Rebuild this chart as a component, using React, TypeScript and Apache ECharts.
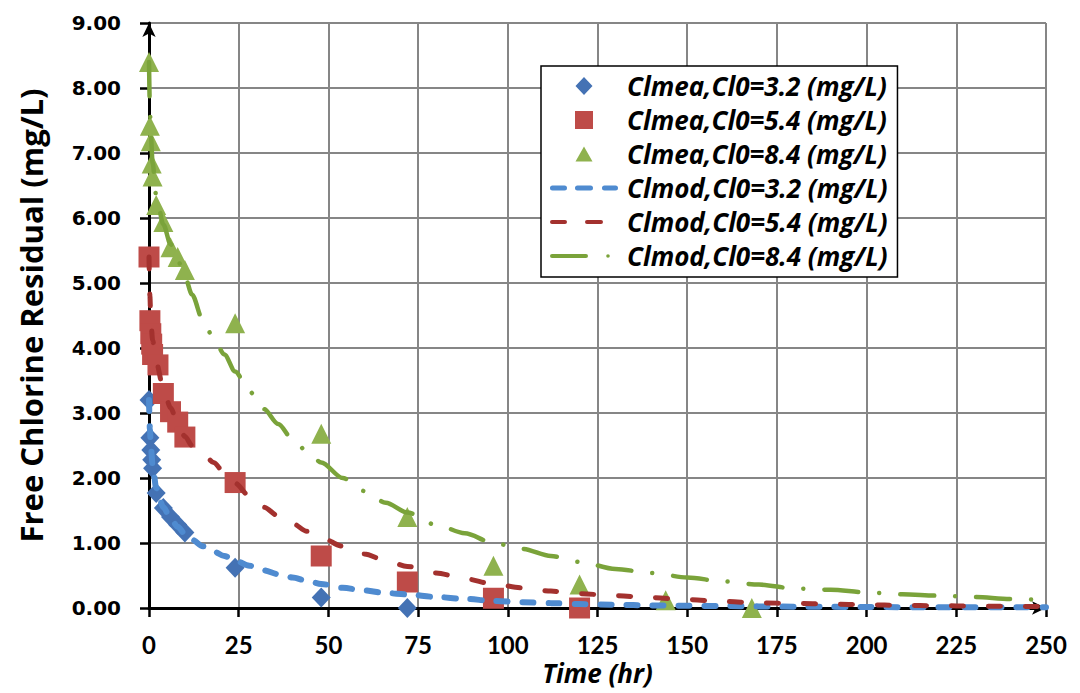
import React, { useEffect, useRef } from "react";
import * as echarts from "echarts";

// ---- measured data ----
const tMea3 = [0, 0.25, 0.5, 0.75, 1, 2, 4, 6, 8, 10, 24, 48, 72];
const clMea3 = [3.2, 2.62, 2.43, 2.28, 2.15, 1.77, 1.54, 1.4, 1.28, 1.16, 0.62, 0.16, 0.0];

const tMea5 = [0, 0.25, 0.5, 0.75, 1, 2.5, 4, 6, 8, 10, 24, 48, 72, 96, 120];
const clMea5 = [5.4, 4.42, 4.22, 4.06, 3.9, 3.74, 3.3, 3.02, 2.86, 2.63, 1.93, 0.8, 0.4, 0.15, 0.0];

const tMea8 = [0, 0.25, 0.5, 0.75, 1, 2, 4, 6, 8, 10, 24, 48, 72, 96, 120, 144, 168];
const clMea8 = [8.4, 7.42, 7.18, 6.84, 6.64, 6.2, 5.94, 5.55, 5.4, 5.2, 4.38, 2.68, 1.4, 0.65, 0.36, 0.12, 0.0];

// ---- model curves ----
const tMod = [0, 0.25, 0.5, 1, 2, 4, 6, 8, 10, 12, 15, 18, 21, 24, 28, 32, 36, 40, 44, 48, 54, 60, 66, 72, 80, 88, 96, 104, 112, 120, 130, 140, 150, 160, 170, 180, 190, 200, 210, 220, 230, 240, 250];
const clMod3 = [3.2, 2.75, 2.5, 2.2, 1.85, 1.55, 1.38, 1.25, 1.14, 1.05, 0.95, 0.87, 0.8, 0.73, 0.65, 0.58, 0.52, 0.47, 0.42, 0.37, 0.31, 0.27, 0.23, 0.21, 0.17, 0.14, 0.11, 0.09, 0.075, 0.06, 0.05, 0.04, 0.035, 0.03, 0.025, 0.02, 0.018, 0.015, 0.013, 0.012, 0.01, 0.01, 0.01];
const clMod5 = [5.4, 4.8, 4.45, 4.12, 3.78, 3.38, 3.08, 2.84, 2.64, 2.5, 2.38, 2.24, 2.08, 1.92, 1.72, 1.55, 1.42, 1.3, 1.18, 1.08, 0.95, 0.83, 0.73, 0.64, 0.54, 0.45, 0.37, 0.31, 0.26, 0.22, 0.19, 0.16, 0.13, 0.1, 0.08, 0.07, 0.06, 0.05, 0.04, 0.035, 0.03, 0.025, 0.02];
const clMod8 = [8.4, 7.7, 7.3, 6.85, 6.35, 5.9, 5.6, 5.35, 5.1, 4.82, 4.43, 4.15, 3.9, 3.64, 3.33, 3.06, 2.83, 2.6, 2.41, 2.24, 2.0, 1.8, 1.62, 1.47, 1.28, 1.15, 1.0, 0.91, 0.8, 0.71, 0.6, 0.54, 0.47, 0.41, 0.36, 0.3, 0.28, 0.24, 0.21, 0.19, 0.17, 0.14, 0.12];

const seriesNames = [
  "Clmea,Cl0=3.2 (mg/L)",
  "Clmea,Cl0=5.4 (mg/L)",
  "Clmea,Cl0=8.4 (mg/L)",
  "Clmod,Cl0=3.2 (mg/L)",
  "Clmod,Cl0=5.4 (mg/L)",
  "Clmod,Cl0=8.4 (mg/L)",
];

const xTitle = "Time (hr)";
const yTitle = "Free Chlorine Residual (mg/L)";

// legend icons (68 x 18 box, corner specks keep the bounding box)
const SPECKS = "M0,0h0.01v0.01h-0.01Z M67.99,17.99h0.01v0.01h-0.01Z ";
const capDash = (x0: number, x1: number, y0: number, h: number) => {
  const r = h / 2;
  return `M${x0 + r},${y0}H${x1 - r}A${r},${r} 0 0 1 ${x1 - r},${y0 + h}H${x0 + r}A${r},${r} 0 0 1 ${x0 + r},${y0}Z `;
};
const legendIcons = [
  "path://" + SPECKS + "M34,0L42.5,9L34,18L25.5,9Z",
  "path://" + SPECKS + "M25,0H43V18H25Z",
  "path://" + SPECKS + "M34,1.5L42.5,16.5L25.5,16.5Z",
  "path://" + SPECKS + capDash(0, 17, 6.5, 5) + capDash(25, 43, 6.5, 5) + capDash(52, 68, 6.5, 5),
  "path://" + SPECKS + capDash(0, 17, 7, 4) + capDash(35, 53, 7, 4),
  "path://" + SPECKS + capDash(0, 38, 7, 4) + capDash(56.2, 59.8, 7.2, 3.6),
];

const pair = (t: number[], v: number[]) => t.map((x, i) => [x, v[i]]);

export default function App() {
  const ref = useRef<HTMLDivElement>(null);
  useEffect(() => {
    if (!ref.current) return;
    const chart = echarts.init(ref.current, null, { renderer: "svg" });
    const scatter = (name: string, t: number[], v: number[], symbol: string, size: any, color: string) => ({
      name,
      type: "scatter",
      data: pair(t, v),
      symbol,
      symbolSize: size,
      itemStyle: { color, opacity: 1 },
      z: 2,
    });
    const line = (name: string, v: number[], color: string, width: number, dash: number[]) => ({
      name,
      type: "line",
      data: pair(tMod, v),
      symbol: "none",
      showSymbol: false,
      smooth: 0.3,
      smoothMonotone: "x",
      lineStyle: { color, width, type: dash, cap: "round" },
      itemStyle: { color },
      z: 3,
    });
    chart.setOption({
      animation: false,
      backgroundColor: "#ffffff",
      grid: { left: 149, right: 34, top: 23, bottom: 85, containLabel: false, outerBoundsMode: "none" },
      legend: {
        orient: "vertical",
        left: 541,
        top: 66,
        padding: [7, 10, 8, 9],
        backgroundColor: "#ffffff",
        borderColor: "#000000",
        borderWidth: 1.5,
        borderRadius: 0,
        itemWidth: 68,
        itemHeight: 18,
        itemGap: 8,
        symbolKeepAspect: false,
        itemStyle: { borderWidth: 0 },
        data: seriesNames.map((name, i) => ({ name, icon: legendIcons[i] })),
        textStyle: {
          fontFamily: "Open Sans",
          fontWeight: "bold",
          fontStyle: "italic",
          fontSize: 26,
          lineHeight: 26,
          padding: [0, 0, 0, 4],
          color: "#000000",
        },
      },
      xAxis: {
        type: "value",
        min: 0,
        max: 250,
        interval: 25,
        name: xTitle,
        nameLocation: "middle",
        nameGap: 52,
        nameMoveOverlap: false,
        nameTextStyle: { fontFamily: "Open Sans", fontWeight: "bold", fontStyle: "italic", fontSize: 26, lineHeight: 26, color: "#000" },
        axisLine: { show: true, onZero: false, symbol: ["none", "arrow"], symbolSize: [10, 14], lineStyle: { color: "#000", width: 3 } },
        axisTick: { show: true, length: 9, lineStyle: { color: "#000", width: 2.5 } },
        axisLabel: { margin: 25, fontFamily: "Lato", fontWeight: "bold", fontSize: 24, lineHeight: 22, color: "#000" },
        splitLine: { show: true, lineStyle: { color: "#868686", width: 2 } },
      },
      yAxis: {
        type: "value",
        min: 0,
        max: 9,
        interval: 1,
        name: yTitle,
        nameLocation: "middle",
        nameRotate: 90,
        nameGap: 103,
        nameMoveOverlap: false,
        nameTextStyle: { fontFamily: "Open Sans", fontWeight: "bold", fontSize: 31, color: "#000" },
        axisLine: { show: true, onZero: false, symbol: ["none", "arrow"], symbolSize: [10, 14], lineStyle: { color: "#000", width: 3 } },
        axisTick: { show: true, length: 9, lineStyle: { color: "#000", width: 2.5 } },
        axisLabel: {
          margin: 28,
          fontFamily: "DejaVu Sans",
          fontWeight: "bold",
          fontSize: 20,
          color: "#000",
          formatter: (v: number) => v.toFixed(2),
        },
        splitLine: { show: true, lineStyle: { color: "#868686", width: 2 } },
      },
      series: [
        scatter(seriesNames[0], tMea3, clMea3, "diamond", [19, 20], "#4472B4"),
        scatter(seriesNames[1], tMea5, clMea5, "rect", 21, "#BE4B48"),
        scatter(seriesNames[2], tMea8, clMea8, "triangle", 20, "#8FB24E"),
        line(seriesNames[3], clMod3, "#4F8BD0", 6, [11, 15]),
        line(seriesNames[4], clMod5, "#A3312E", 5, [12, 25]),
        line(seriesNames[5], clMod8, "#7AA33A", 4.5, [34, 21, 0.01, 21]),
      ],
    });
    return () => chart.dispose();
  }, []);
  return (
    <div
      ref={ref}
      style={{ position: "fixed", left: 0, top: 0, width: 1080, height: 693, background: "#fff" }}
    />
  );
}
